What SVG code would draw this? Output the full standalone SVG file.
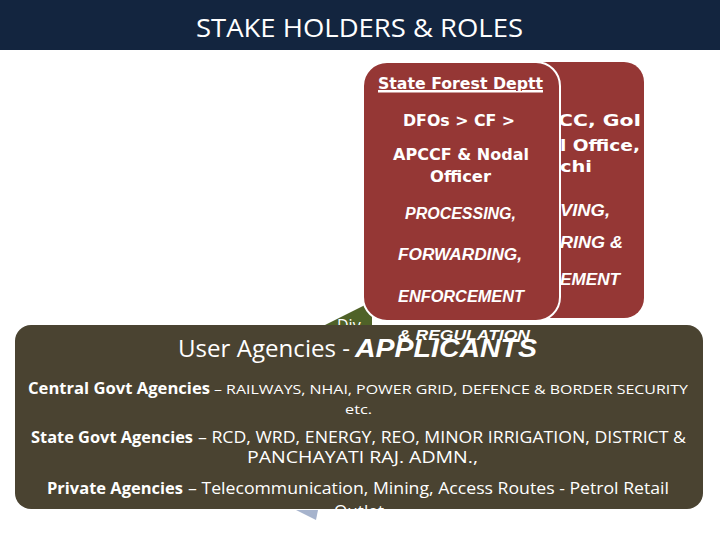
<svg xmlns="http://www.w3.org/2000/svg" width="720" height="540" viewBox="0 0 720 540">
<style>
.w{fill:#ffffff}
.v{font-family:"DejaVu Sans","Liberation Sans",sans-serif;font-weight:bold}
.t{font-family:"Liberation Sans",Arial,sans-serif;font-weight:bold;font-style:italic}
.c{font-family:"Open Sans","Liberation Sans",sans-serif}
.red{fill:#953735}
</style>
<rect x="0" y="0" width="720" height="50" fill="#13253f"/>
<text class="c w" x="196" y="37" font-size="26" textLength="327" lengthAdjust="spacingAndGlyphs">STAKE HOLDERS &amp; ROLES</text>

<g id="green-node">
<polygon points="323,326 365,305 372,305 372,326" fill="#4f6228"/>
<text class="c w" x="337" y="331" font-size="16">Div</text>
</g>

<g id="moef-node">
<rect class="red" x="440" y="62" width="204" height="256" rx="20"/>
<text class="v w" x="558" y="126" font-size="16" textLength="83" lengthAdjust="spacingAndGlyphs">CC, GoI</text>
<text class="v w" x="560" y="151" font-size="16" textLength="80" lengthAdjust="spacingAndGlyphs">l Office,</text>
<text class="v w" x="560" y="172" font-size="16" textLength="32" lengthAdjust="spacingAndGlyphs">chi</text>
<text class="t w" x="560" y="216" font-size="16" textLength="50" lengthAdjust="spacingAndGlyphs">VING,</text>
<text class="t w" x="560" y="248" font-size="16" textLength="63" lengthAdjust="spacingAndGlyphs">RING &amp;</text>
<text class="t w" x="560" y="285" font-size="16" textLength="60" lengthAdjust="spacingAndGlyphs">EMENT</text>
</g>

<g id="forest-node">
<rect class="red" x="363" y="62" width="197" height="259" rx="24" stroke="#ffffff" stroke-width="2"/>
<text class="v w" x="378" y="89" font-size="15" textLength="165" lengthAdjust="spacingAndGlyphs" text-decoration="underline">State Forest Deptt</text>
<rect x="378" y="91" width="165" height="1.5" fill="#ffffff"/>
<text class="v w" x="403" y="126" font-size="15.5" textLength="112" lengthAdjust="spacingAndGlyphs">DFOs &gt; CF &gt;</text>
<text class="v w" x="393" y="160" font-size="15.5" textLength="136" lengthAdjust="spacingAndGlyphs">APCCF &amp; Nodal</text>
<text class="v w" x="430" y="182" font-size="15.5" textLength="61" lengthAdjust="spacingAndGlyphs">Officer</text>
<text class="t w" x="405" y="219" font-size="16" textLength="111" lengthAdjust="spacingAndGlyphs">PROCESSING,</text>
<text class="t w" x="398" y="260" font-size="16" textLength="124" lengthAdjust="spacingAndGlyphs">FORWARDING,</text>
<text class="t w" x="398" y="302" font-size="16" textLength="126" lengthAdjust="spacingAndGlyphs">ENFORCEMENT</text>
</g>

<g id="connectors">
<polygon points="296,510 318,510 316,520" fill="#a6b3cc"/>
</g>

<g id="user-node">
<rect x="15" y="325" width="688" height="184" rx="16" fill="#4a4331"/>
<text class="t w" x="398" y="340" font-size="14" textLength="132" lengthAdjust="spacingAndGlyphs">&amp; REGULATION</text>
<text class="c w" x="178" y="357" font-size="24" textLength="172" lengthAdjust="spacingAndGlyphs">User Agencies - </text>
<text class="t w" x="355" y="357" font-size="26" textLength="182" lengthAdjust="spacingAndGlyphs">APPLICANTS</text>
<text class="c w" x="28" y="394" font-size="15.5" font-weight="bold" textLength="182" lengthAdjust="spacingAndGlyphs">Central Govt Agencies</text>
<text class="c w" x="214" y="394" font-size="13.5" textLength="474" lengthAdjust="spacingAndGlyphs">– RAILWAYS, NHAI, POWER GRID, DEFENCE &amp; BORDER SECURITY</text>
<text class="c w" x="345" y="414" font-size="13.5" textLength="27" lengthAdjust="spacingAndGlyphs">etc.</text>
<text class="c w" x="31" y="443" font-size="15.5" font-weight="bold" textLength="162" lengthAdjust="spacingAndGlyphs">State Govt Agencies</text>
<text class="c w" x="198" y="443" font-size="15.5" textLength="488" lengthAdjust="spacingAndGlyphs">– RCD, WRD, ENERGY, REO, MINOR IRRIGATION, DISTRICT &amp;</text>
<text class="c w" x="247" y="463" font-size="15.5" textLength="231" lengthAdjust="spacingAndGlyphs">PANCHAYATI RAJ. ADMN.,</text>
<text class="c w" x="47" y="494" font-size="15.5" font-weight="bold" textLength="136" lengthAdjust="spacingAndGlyphs">Private Agencies</text>
<text class="c w" x="188" y="494" font-size="15.5" textLength="481" lengthAdjust="spacingAndGlyphs">– Telecommunication, Mining, Access Routes - Petrol Retail</text>
<text class="c w" x="334" y="517" font-size="15.5" textLength="50" lengthAdjust="spacingAndGlyphs">Outlet</text>
</g>
</svg>
